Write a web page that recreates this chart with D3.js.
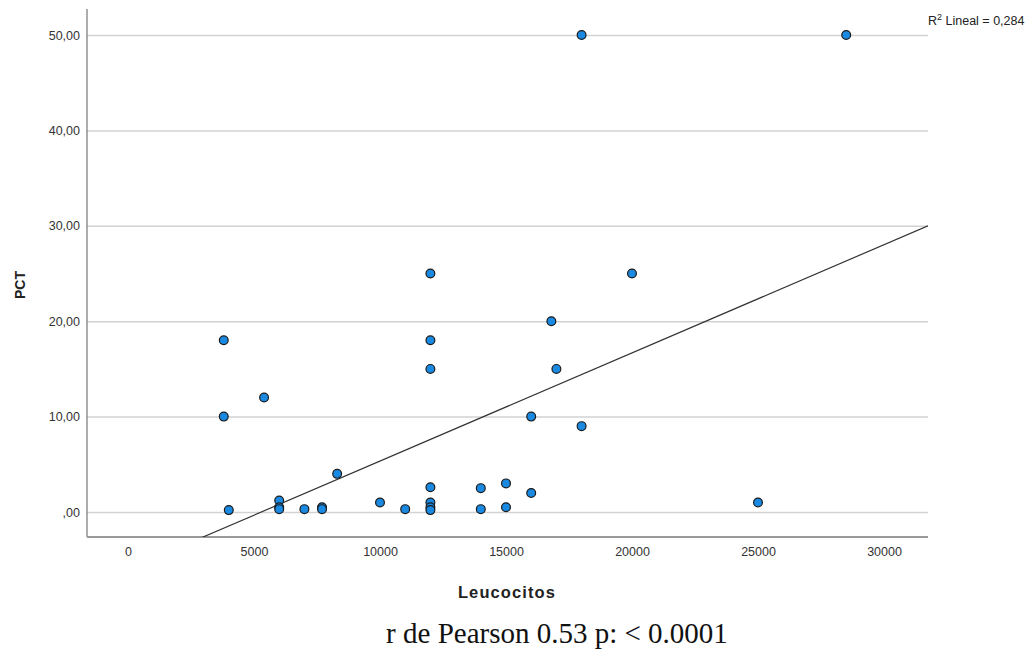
<!DOCTYPE html>
<html>
<head>
<meta charset="utf-8">
<script src="https://cdn.jsdelivr.net/npm/d3@7"></script>
<style>
  html, body { margin: 0; padding: 0; background: #fff; }
  svg { display: block; }
</style>
</head>
<body>
<svg id="chart" width="1034" height="654"></svg>
<script>
// ---- data ----
const leucocitos = [3800, 3800, 4000, 5400, 6000, 6000, 6000, 7000, 7700, 7700, 8300, 10000, 11000,
  12000, 12000, 12000, 12000, 12000, 12000, 12000, 14000, 14000, 15000, 15000, 16000, 16000,
  16800, 17000, 18000, 18000, 20000, 25000, 28500];
const pct = [18, 10, 0.2, 12, 1.2, 0.5, 0.3, 0.3, 0.5, 0.3, 4, 1, 0.3,
  25, 18, 15, 2.6, 1.0, 0.5, 0.2, 2.5, 0.3, 3.0, 0.5, 10, 2.0,
  20, 15, 9, 50, 25, 1, 50];
const fitIntercept = -6.0;
const fitSlope = 0.001134;
const xTicks = [0, 5000, 10000, 15000, 20000, 25000, 30000];
const xTickLabels = ["0", "5000", "10000", "15000", "20000", "25000", "30000"];
const yTicks = [0, 10, 20, 30, 40, 50];
const yTickLabels = [",00", "10,00", "20,00", "30,00", "40,00", "50,00"];
const xTitle = "Leucocitos";
const yTitle = "PCT";
const fitLabel = "Lineal = 0,284";
const caption = "r de Pearson 0.53 p: < 0.0001";

// ---- layout ----
const svg = d3.select("#chart");
const pL = 87, pR = 928, pT = 9, pB = 537;
const x = d3.scaleLinear().domain([-1627, 31746]).range([pL, pR]);
const y = d3.scaleLinear().domain([-2.62, 52.73]).range([pB, pT]);
const sans = "Liberation Sans, Arial, sans-serif";

// gridlines
const gy = svg.append("g").attr("transform", `translate(${pL},0)`)
  .call(d3.axisLeft(y).tickValues(yTicks).tickSize(-(pR - pL)).tickFormat((d, i) => yTickLabels[i]));
gy.select(".domain").remove();
gy.selectAll(".tick line").attr("stroke", "#d2d2d2").attr("stroke-width", 1.5);
gy.selectAll(".tick text").attr("x", -7).attr("fill", "#333").attr("font-family", sans).attr("font-size", 12.5);

// x axis
const gx = svg.append("g").attr("transform", `translate(0,${pB})`)
  .call(d3.axisBottom(x).tickValues(xTicks).tickSize(0).tickFormat((d, i) => xTickLabels[i]));
gx.select(".domain").remove();
gx.selectAll(".tick text").attr("y", 10).attr("fill", "#333").attr("font-family", sans).attr("font-size", 12.5);

// axis lines
svg.append("line").attr("x1", pL).attr("x2", pL).attr("y1", pT).attr("y2", pB)
  .attr("stroke", "#808080").attr("stroke-width", 1.3);
svg.append("line").attr("x1", pL).attr("x2", pR).attr("y1", pB).attr("y2", pB)
  .attr("stroke", "#999").attr("stroke-width", 2);

// clip
svg.append("clipPath").attr("id", "plotclip").append("rect")
  .attr("x", pL).attr("y", pT).attr("width", pR - pL).attr("height", pB - pT);

// fit line
const xd = x.domain();
svg.append("line").attr("clip-path", "url(#plotclip)")
  .attr("x1", x(xd[0])).attr("y1", y(fitIntercept + fitSlope * xd[0]))
  .attr("x2", x(xd[1])).attr("y2", y(fitIntercept + fitSlope * xd[1]))
  .attr("stroke", "#333").attr("stroke-width", 1.2);

// points
svg.append("g").selectAll("circle").data(leucocitos.map((v, i) => [v, pct[i]])).join("circle")
  .attr("cx", d => x(d[0])).attr("cy", d => y(d[1])).attr("r", 4.4)
  .attr("fill", "#1a89e2").attr("stroke", "#1a1a1a").attr("stroke-width", 1.2);

// titles
svg.append("text").attr("x", 507).attr("y", 598).attr("text-anchor", "middle")
  .attr("font-family", sans).attr("font-weight", "bold").attr("font-size", 16.5)
  .attr("letter-spacing", 1.1).attr("fill", "#222").text(xTitle);
svg.append("text").attr("transform", "translate(25,285) rotate(-90)").attr("text-anchor", "middle")
  .attr("font-family", sans).attr("font-weight", "bold").attr("font-size", 14)
  .attr("fill", "#222").text(yTitle);

// R2 label
const rl = svg.append("text").attr("x", 928).attr("y", 25)
  .attr("font-family", sans).attr("font-size", 12.5).attr("fill", "#222");
rl.append("tspan").text("R");
rl.append("tspan").attr("dy", -5).attr("font-size", 9).text("2");
rl.append("tspan").attr("dy", 5).text(" " + fitLabel);

// caption
svg.append("text").attr("x", 557).attr("y", 643).attr("text-anchor", "middle")
  .attr("font-family", "Liberation Serif, Times New Roman, serif").attr("font-size", 29)
  .attr("fill", "#111").text(caption);
</script>
</body>
</html>
